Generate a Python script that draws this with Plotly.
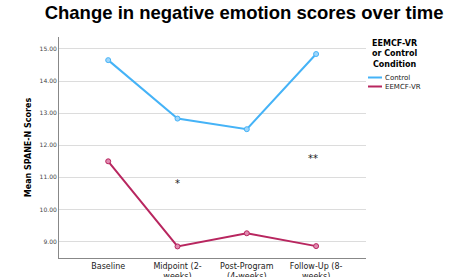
import plotly.graph_objects as go

categories = ["Baseline", "Midpoint (2-<br>weeks)", "Post-Program<br>(4-weeks)", "Follow-Up (8-<br>weeks)"]
control = [14.65, 12.83, 12.50, 14.84]
eemcf = [11.50, 8.85, 9.26, 8.86]
y_ticks = [9, 10, 11, 12, 13, 14, 15]
y_tick_labels = ["9.00", "10.00", "11.00", "12.00", "13.00", "14.00", "15.00"]
sig_labels = ["*", "**"]
sig_x = [1, 2.95]
sig_y = [10.82, 11.6]
series_names = ["Control", "EEMCF-VR"]
legend_title = "<b>EEMCF-VR<br>or Control<br>Condition</b>"

x_idx = list(range(len(categories)))
ctrl_color = "#45b3f7"
vr_color = "#b8265f"
colors = [ctrl_color, vr_color]

W, H = 458, 277
ML, MR, MT, MB = 59, 92, 37, 19
pw, ph = W - ML - MR, H - MT - MB


def px_x(x):
    return (x - ML) / pw


def px_y(y):
    return 1 - (y - MT) / ph


fig = go.Figure()
fig.add_trace(go.Scatter(
    x=x_idx, y=control, mode="lines+markers", name=series_names[0], showlegend=False,
    line=dict(color=ctrl_color, width=2),
    marker=dict(color="#9fd6fb", size=5, line=dict(color=ctrl_color, width=1)),
))
fig.add_trace(go.Scatter(
    x=x_idx, y=eemcf, mode="lines+markers", name=series_names[1], showlegend=False,
    line=dict(color=vr_color, width=2),
    marker=dict(color="#e08ab0", size=5, line=dict(color=vr_color, width=1)),
))

for lab, xx, yy in zip(sig_labels, sig_x, sig_y):
    fig.add_annotation(x=xx, y=yy, text=lab, showarrow=False,
                       font=dict(family="DejaVu Sans", size=10, color="#222222"))

# custom compact legend
fig.add_annotation(xref="paper", yref="paper", x=px_x(395), y=px_y(54),
                   text=legend_title, showarrow=False, xanchor="center", yanchor="middle",
                   align="center",
                   font=dict(family="DejaVu Sans", size=8, color="black"))
for i, (nm, c) in enumerate(zip(series_names, colors)):
    yy = 77.5 + 9 * i
    fig.add_shape(type="line", xref="paper", yref="paper",
                  x0=px_x(368), x1=px_x(382), y0=px_y(yy), y1=px_y(yy),
                  line=dict(color=c, width=2))
    fig.add_annotation(xref="paper", yref="paper", x=px_x(383), y=px_y(yy),
                       text=nm, showarrow=False, xanchor="left", yanchor="middle",
                       font=dict(family="DejaVu Sans", size=7, color="#222222"))

fig.update_layout(
    width=W, height=H,
    margin=dict(l=ML, r=MR, t=MT, b=MB, autoexpand=False),
    plot_bgcolor="white", paper_bgcolor="white",
    showlegend=False,
    title=dict(text="<b>Change in negative emotion scores over time</b>",
               x=0.533, xanchor="center", y=1 - 12.5 / H, yref="container", yanchor="middle",
               font=dict(family="Liberation Sans, Arial", size=18.5, color="black")),
    xaxis=dict(
        range=[-0.71, 3.72], tickmode="array", tickvals=x_idx, ticktext=categories,
        showgrid=False, zeroline=False, showline=True, linecolor="#888888", linewidth=1,
        ticks="", automargin=False,
        tickfont=dict(family="DejaVu Sans", size=8, color="#222222"),
    ),
    yaxis=dict(
        range=[8.49, 15.37], tickmode="array", tickvals=y_ticks, ticktext=y_tick_labels,
        showgrid=True, gridcolor="#dcdcdc", gridwidth=1, zeroline=False,
        showline=True, linecolor="#888888", linewidth=1, ticks="", automargin=False,
        tickfont=dict(family="DejaVu Sans", size=6, color="#444444"),
        title=dict(text="<b>Mean SPANE-N Scores</b>", standoff=6,
                   font=dict(family="DejaVu Sans", size=8, color="black")),
    ),
)

fig.write_html("out.html", config={"displayModeBar": False},
               post_script="document.body.style.margin='0';document.body.style.overflow='hidden';")
